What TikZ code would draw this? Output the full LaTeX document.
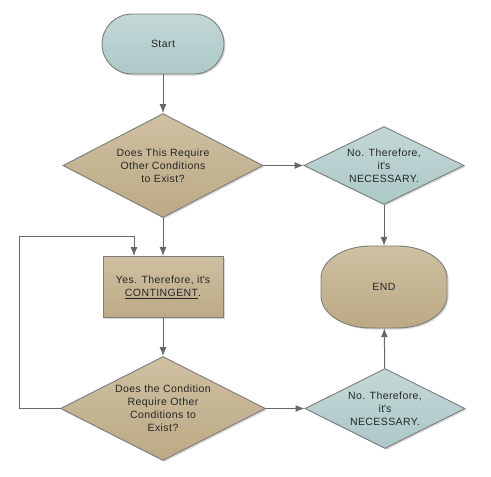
\documentclass[tikz,border=0pt]{standalone}
\usepackage{fontspec}
\setmainfont[LetterSpace=4]{Liberation Sans}
\usetikzlibrary{shapes.geometric,arrows.meta,shadows}
\definecolor{bluetop}{HTML}{C2D8D6}
\definecolor{bluebot}{HTML}{ADC8C8}
\definecolor{tantop}{HTML}{CFC0A2}
\definecolor{tanbot}{HTML}{BCA984}
\definecolor{edgegray}{HTML}{7C7C7C}
\definecolor{linegray}{HTML}{676767}
\definecolor{textgray}{HTML}{262626}
\begin{document}
\begin{tikzpicture}[
                            x=1pt, y=1pt,
                            node distance=121.5pt,
                            >={Latex[length=9pt,width=7pt]},
                            every node/.style={font=\fontsize{10.5}{13}\selectfont, text=textgray, align=center},
                            boxshadow/.style={drop shadow={shadow xshift=1.5pt, shadow yshift=-1.5pt, opacity=0.3}},
                            bluefill/.style={top color=bluetop, bottom color=bluebot, draw=edgegray, line width=0.9pt, boxshadow},
                            tanfill/.style={top color=tantop, bottom color=tanbot, draw=edgegray, line width=0.9pt, boxshadow},
                            decision/.style={diamond, aspect=2, inner sep=0pt},
                            link/.style={->, draw=linegray, line width=1pt}
                        ]
                        \useasboundingbox (0,0) rectangle (491,-477);
                        % Blocks
                        \node [rectangle, rounded corners=30pt, bluefill, minimum width=122pt, minimum height=60pt] (start) at (163,-44) {Start};
                        \node [decision, tanfill, minimum width=200pt, minimum height=104pt, below of=start] (q1) {Does This Require\\Other Conditions\\to Exist?};
                        \node [rectangle, tanfill, minimum width=120pt, minimum height=61pt, below of=q1] (cont) {Yes. Therefore, it\textquotesingle s\\\underline{CONTINGENT}.};
                        \node [decision, tanfill, minimum width=205pt, minimum height=104pt, below of=cont] (q2) {Does the Condition\\Require Other\\Conditions to\\Exist?};
                        \node [decision, bluefill, minimum width=160pt, minimum height=78pt, right of=q1, node distance=221pt] (no1) {No. Therefore,\\it\textquotesingle s\\NECESSARY.};
                        \node [decision, bluefill, minimum width=160pt, minimum height=80pt, right of=q2, node distance=222pt] (no2) {No. Therefore,\\it\textquotesingle s\\NECESSARY.};
                        \coordinate [below of=no1] (endc);
                        \draw [tanfill] ([xshift=-13pt,yshift=41pt]endc) -- ([xshift=13pt,yshift=41pt]endc)
                            arc [start angle=90, end angle=0, x radius=50pt, y radius=32pt] -- ([xshift=63pt,yshift=-9pt]endc)
                            arc [start angle=0, end angle=-90, x radius=50pt, y radius=32pt] -- ([xshift=-13pt,yshift=-41pt]endc)
                            arc [start angle=270, end angle=180, x radius=50pt, y radius=32pt] -- ([xshift=-63pt,yshift=9pt]endc)
                            arc [start angle=180, end angle=90, x radius=50pt, y radius=32pt] -- cycle;
                        \node [rectangle, minimum width=126pt, minimum height=82pt, inner sep=0pt] (end) at (endc) {END};

                        % Connections
                        \draw [link] (start) -- (q1);
                        \draw [link] (q1) -- (cont);
                        \draw [link] (q1) -- (no1);
                        \draw [link] (no1) -- (end);
                        \draw [link] (cont) -- (q2);
                        \draw [link] (q2) -- (no2);
                        \draw [link] (no2) -- (end);
                        \draw [link] (q2.west) -- ++(-41,0) |- ([xshift=-29pt,yshift=20pt]cont.north) -- ([xshift=-29pt]cont.north);
                    \end{tikzpicture}
\end{document}
